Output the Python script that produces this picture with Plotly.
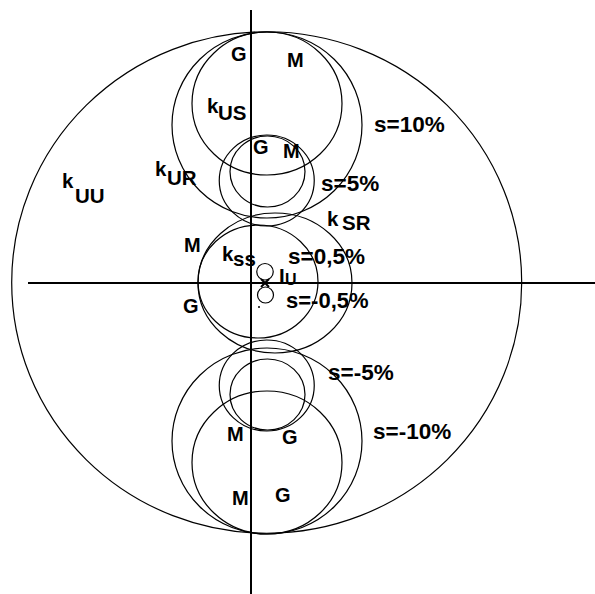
import plotly.graph_objects as go

# Circle diagram: slip circles s = ±10 %, ±5 %, ±0,5 % and the k-circles.
# Units: diagram units, origin at the crossing of the two axes.

# circles in the upper half (mirrored about the horizontal axis for negative slip)
upper_names = ["k_US", "s=10%", "s=5% outer", "s=5% inner"]
upper_cx = [0.64, 0.64, 0.63, 0.66]
upper_cy = [7.18, 6.32, 4.10, 4.46]
upper_rx = [3.00, 3.80, 1.90, 1.50]
upper_ry = [2.86, 3.72, 1.82, 1.42]

# circles centred on the horizontal axis region
mid_names = ["k_UU", "k_SS", "k_SR", "s=0,5%", "s=-0,5%"]
mid_cx = [0.628, 0.28, 0.96, 0.56, 0.58]
mid_cy = [0.02, 0.06, 0.00, 0.45, -0.48]
mid_rx = [10.20, 2.40, 3.08, 0.33, 0.32]
mid_ry = [10.03, 2.26, 2.80, 0.33, 0.32]

# axis lines
h_axis_x = [-8.92, 13.8]
v_axis_y = [10.92, -12.5]

# current point I_U and auxiliary dot
iu_point = (0.56, 0.0)
aux_dot = (0.32, -0.96)

# region letters (G = generator, M = motor)
region_text = ["G", "M", "G", "M", "M", "G", "M", "G", "M", "G"]
region_x = [-0.48, 1.76, 0.40, 1.60, -2.36, -2.40, -0.64, 1.56, -0.44, 1.28]
region_y = [9.16, 8.92, 5.44, 5.28, 1.52, -0.92, -6.04, -6.16, -8.60, -8.48]

# slip labels (left edge of each text)
slip_text = ["s=10%", "s=5%", "s=0,5%", "s=-0,5%", "s=-5%", "s=-10%"]
slip_x = [4.86, 2.74, 1.42, 1.34, 3.02, 4.82]
slip_y = [6.34, 3.98, 1.06, -0.70, -3.58, -5.94]
slip_size = [22.5, 22.5, 22.5, 22, 22.5, 22.5]

# circle names: main letter and subscript, each with its own anchor
k_main = ["k", "k", "k", "k", "k", "I"]
k_main_x = [-1.80, -3.88, -7.60, 3.00, -1.20, 1.06]
k_main_y = [7.12, 4.58, 4.12, 2.58, 1.18, 0.30]
k_sub = ["US", "UR", "UU", "SR", "ss", "U"]
k_sub_x = [-1.36, -3.40, -7.08, 3.60, -0.76, 1.30]
k_sub_y = [6.82, 4.22, 3.50, 2.42, 1.00, 0.16]
k_sub_size = [20.5, 20.5, 20.5, 20.5, 20.5, 16]

FONT = "Liberation Sans"
INK = "#000000"

fig = go.Figure()

shapes = []


def ellipse(cx, cy, rx, ry):
    return dict(type="circle", xref="x", yref="y",
                x0=cx - rx, x1=cx + rx, y0=cy - ry, y1=cy + ry,
                line=dict(color=INK, width=1.2))


for cx, cy, rx, ry in zip(upper_cx, upper_cy, upper_rx, upper_ry):
    shapes.append(ellipse(cx, cy, rx, ry))
    shapes.append(ellipse(cx, -cy, rx, ry))
for cx, cy, rx, ry in zip(mid_cx, mid_cy, mid_rx, mid_ry):
    shapes.append(ellipse(cx, cy, rx, ry))

# axes
fig.add_trace(go.Scatter(x=h_axis_x, y=[0, 0], mode="lines",
                         line=dict(color=INK, width=2), hoverinfo="skip"))
fig.add_trace(go.Scatter(x=[0, 0], y=v_axis_y, mode="lines",
                         line=dict(color=INK, width=2), hoverinfo="skip"))
fig.add_trace(go.Scatter(x=[iu_point[0]], y=[iu_point[1]], mode="markers",
                         marker=dict(symbol="x-thin", size=8,
                                     line=dict(color=INK, width=2)),
                         hoverinfo="skip"))
fig.add_trace(go.Scatter(x=[aux_dot[0]], y=[aux_dot[1]], mode="markers",
                         marker=dict(symbol="circle", size=2, color=INK),
                         hoverinfo="skip"))

annotations = []
for t, x, y in zip(region_text, region_x, region_y):
    annotations.append(dict(x=x, y=y, text=f"<b>{t}</b>", showarrow=False,
                            xanchor="center", yanchor="middle", borderpad=0,
                            font=dict(family=FONT, size=20, color=INK)))
for t, x, y, sz in zip(slip_text, slip_x, slip_y, slip_size):
    annotations.append(dict(x=x, y=y, text=f"<b>{t}</b>", showarrow=False,
                            xanchor="left", yanchor="middle", borderpad=0,
                            font=dict(family=FONT, size=sz, color=INK)))
for t, x, y in zip(k_main, k_main_x, k_main_y):
    annotations.append(dict(x=x, y=y, text=f"<b>{t}</b>", showarrow=False,
                            xanchor="left", yanchor="middle", borderpad=0,
                            font=dict(family=FONT, size=20.5, color=INK)))
for t, x, y, sz in zip(k_sub, k_sub_x, k_sub_y, k_sub_size):
    annotations.append(dict(x=x, y=y, text=f"<b>{t}</b>", showarrow=False,
                            xanchor="left", yanchor="middle", borderpad=0,
                            font=dict(family=FONT, size=sz, color=INK)))

fig.update_layout(
    width=595, height=594,
    margin=dict(l=0, r=0, t=0, b=0),
    paper_bgcolor="white", plot_bgcolor="white",
    showlegend=False,
    shapes=shapes,
    annotations=annotations,
    xaxis=dict(range=[-10.04, 13.76], visible=False, fixedrange=True),
    yaxis=dict(range=[-12.44, 11.32], visible=False, fixedrange=True),
)

fig.write_html("out.html")
